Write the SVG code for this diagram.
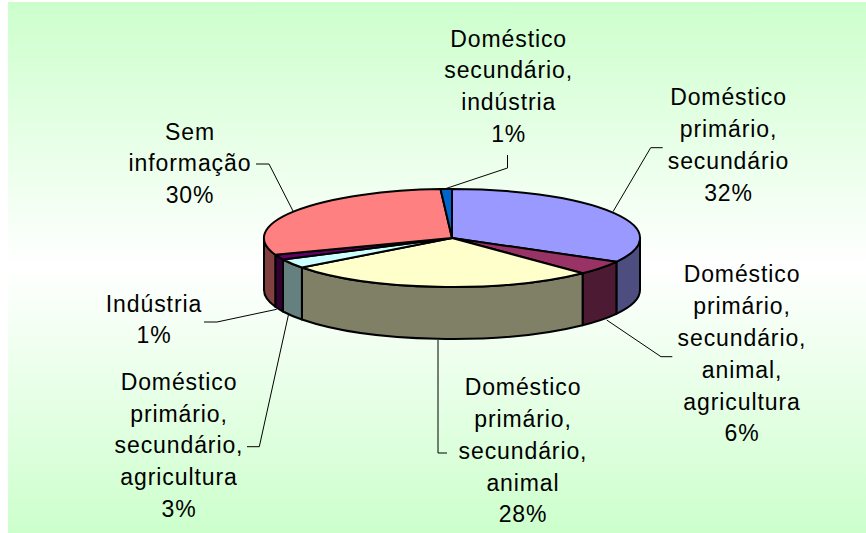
<svg xmlns="http://www.w3.org/2000/svg" width="866" height="533" viewBox="0 0 866 533">
<defs>
<linearGradient id="bg" x1="0" y1="0" x2="0" y2="1">
<stop offset="0" stop-color="#CCFFCC"/>
<stop offset="0.5" stop-color="#FFFFFF"/>
<stop offset="1" stop-color="#CCFFCC"/>
</linearGradient>
<style>
.lbl{font-family:"Liberation Sans",Arial,sans-serif;font-size:23px;letter-spacing:0.9px;text-anchor:middle;fill:#000}
.sl{stroke:#000;stroke-width:2;stroke-linejoin:round}
.ld{fill:none;stroke:#000;stroke-width:1}
</style>
</defs>
<rect x="0" y="0" width="866" height="533" fill="#FFFFFF"/>
<rect x="8" y="2" width="858" height="531" fill="url(#bg)"/>

<g id="slice-dom-prim-sec">
<path class="sl" fill="#4D4D80" d="M640,238 A188,49 0 0 1 616.4,261.8 L616.4,313.8 A188,49 0 0 0 640,290 Z"/>
<path class="sl" fill="#9999FF" d="M452,238 L452,189 A188,49 0 0 1 616.4,261.8 Z"/>
<text class="lbl" x="728.5"><tspan x="728.5" y="105">Doméstico</tspan><tspan x="728.5" y="137">primário,</tspan><tspan x="728.5" y="169">secundário</tspan><tspan x="728.5" y="201">32%</tspan></text>
</g>

<g id="slice-dom-prim-sec-animal-agri">
<path class="sl" fill="#4D1A33" d="M616.4,261.8 A188,49 0 0 1 582.6,273.2 L582.6,325.2 A188,49 0 0 0 616.4,313.8 Z"/>
<path class="sl" fill="#993366" d="M452,238 L616.4,261.8 A188,49 0 0 1 582.6,273.2 Z"/>
<text class="lbl"><tspan x="742" y="282">Doméstico</tspan><tspan x="742" y="314">primário,</tspan><tspan x="742" y="346">secundário,</tspan><tspan x="742" y="378">animal,</tspan><tspan x="742" y="409.5">agricultura</tspan><tspan x="742" y="441">6%</tspan></text>
</g>

<g id="slice-dom-prim-sec-animal">
<path class="sl" fill="#808066" d="M582.6,273.2 A188,49 0 0 1 301.9,267.5 L301.9,319.5 A188,49 0 0 0 582.6,325.2 Z"/>
<path class="sl" fill="#FFFFCC" d="M452,238 L582.6,273.2 A188,49 0 0 1 301.9,267.5 Z"/>
<text class="lbl"><tspan x="523" y="395">Doméstico</tspan><tspan x="523" y="427">primário,</tspan><tspan x="523" y="459">secundário,</tspan><tspan x="523" y="490.5">animal</tspan><tspan x="523" y="522">28%</tspan></text>
</g>

<g id="slice-dom-prim-sec-agri">
<path class="sl" fill="#668080" d="M301.9,267.5 A188,49 0 0 1 283,259.5 L283,311.5 A188,49 0 0 0 301.9,319.5 Z"/>
<path class="sl" fill="#CCFFFF" d="M452,238 L301.9,267.5 A188,49 0 0 1 283,259.5 Z"/>
<text class="lbl"><tspan x="179" y="390">Doméstico</tspan><tspan x="179" y="421.7">primário,</tspan><tspan x="179" y="453.4">secundário,</tspan><tspan x="179" y="485">agricultura</tspan><tspan x="179" y="516.8">3%</tspan></text>
</g>

<g id="slice-industria">
<path class="sl" fill="#330033" d="M283,259.5 A188,49 0 0 1 275.3,254.8 L275.3,306.8 A188,49 0 0 0 283,311.5 Z"/>
<path class="sl" fill="#660066" d="M452,238 L283,259.5 A188,49 0 0 1 275.3,254.8 Z"/>
<text class="lbl"><tspan x="154" y="311.7">Indústria</tspan><tspan x="154" y="343.3">1%</tspan></text>
</g>

<g id="slice-sem-informacao">
<path class="sl" fill="#804040" d="M275.3,254.8 A188,49 0 0 1 264,238 L264,290 A188,49 0 0 0 275.3,306.8 Z"/>
<path class="sl" fill="#FF8080" d="M452,238 L275.3,254.8 A188,49 0 0 1 440.5,189.1 Z"/>
<text class="lbl"><tspan x="190" y="139.5">Sem</tspan><tspan x="190" y="171">informação</tspan><tspan x="190" y="202.5">30%</tspan></text>
</g>

<g id="slice-dom-sec-industria">
<path class="sl" fill="#0066CC" d="M452,238 L440.5,189.1 A188,49 0 0 1 452,189 Z"/>
<text class="lbl"><tspan x="508.7" y="46.7">Doméstico</tspan><tspan x="508.7" y="78.3">secundário,</tspan><tspan x="508.7" y="110">indústria</tspan><tspan x="508.7" y="141.7">1%</tspan></text>
</g>

<g id="connectors">
<polyline class="ld" points="446,188.5 507.5,168 507.5,155"/>
<polyline class="ld" points="613,211.7 650.7,147.7 662.7,147.7"/>
<polyline class="ld" points="606.7,320 661,356.7 672.3,356.7"/>
<polyline class="ld" points="438,340 438,453 447,453"/>
<polyline class="ld" points="288.5,314.5 259.3,446.7 247,446.7"/>
<polyline class="ld" points="276.7,309.3 217,322 204,322"/>
<polyline class="ld" points="293,211 269,164 256,164"/>
</g>
</svg>
